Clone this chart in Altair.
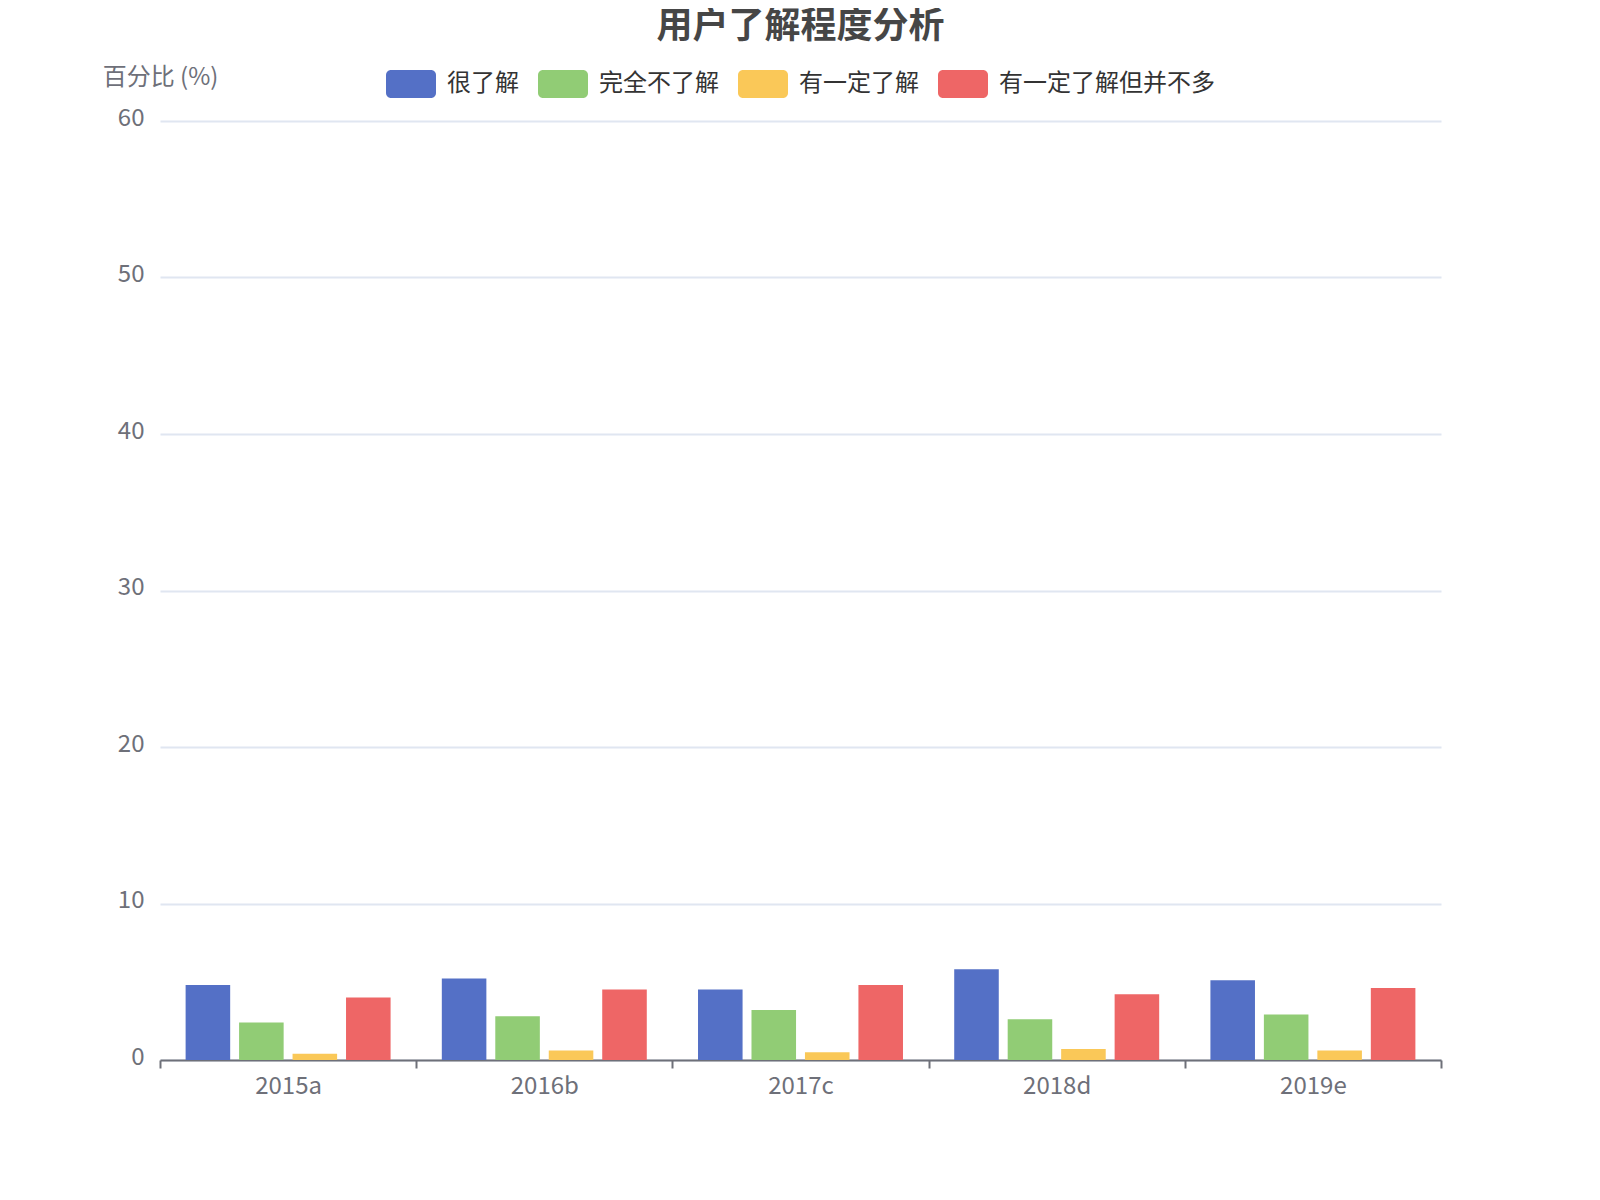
import altair as alt
import pandas as pd

# categories / series
years = ['2015a', '2016b', '2017c', '2018d', '2019e']
levels = ['很了解', '完全不了解', '有一定了解', '有一定了解但并不多']
very_well = [4.8, 5.2, 4.5, 5.8, 5.1]
not_at_all = [2.4, 2.8, 3.2, 2.6, 2.9]
somewhat = [0.4, 0.6, 0.5, 0.7, 0.6]
somewhat_little = [4.0, 4.5, 4.8, 4.2, 4.6]
colors = ['#5470c6', '#91cc75', '#fac858', '#ee6666']
y_ticks = [0, 10, 20, 30, 40, 50, 60]

series = [very_well, not_at_all, somewhat, somewhat_little]
rows = []
for lvl, vals in zip(levels, series):
    for yr, v in zip(years, vals):
        rows.append({'year': yr, 'level': lvl, 'value': v})
source = pd.DataFrame(rows)

FONT = 'Noto Sans CJK SC'
AXIS_GREY = '#6E7079'

# rounded rectangle legend symbol (unit box, scaled by symbolSize)
rrect = ('M-0.8,-0.56 H0.8 A0.2,0.2 0 0 1 1,-0.36 V0.36 '
         'A0.2,0.2 0 0 1 0.8,0.56 H-0.8 A0.2,0.2 0 0 1 -1,0.36 '
         'V-0.36 A0.2,0.2 0 0 1 -0.8,-0.56 Z')

bars = alt.Chart(source).mark_bar().encode(
    x=alt.X('year:N', sort=years,
            scale=alt.Scale(paddingInner=0, paddingOuter=0),
            axis=alt.Axis(title=None, labelAngle=0, tickBand='extent',
                          labelFontSize=24, labelColor=AXIS_GREY,
                          labelPadding=6, labelFont=FONT,
                          domainColor=AXIS_GREY, domainWidth=2,
                          tickColor=AXIS_GREY, tickWidth=2, tickSize=8)),
    xOffset=alt.XOffset('level:N', sort=levels,
                        scale=alt.Scale(paddingInner=1 / 6,
                                        paddingOuter=0.479)),
    y=alt.Y('value:Q',
            scale=alt.Scale(domain=[0, 60]),
            axis=alt.Axis(values=y_ticks, title='百分比 (%)',
                          titleAngle=0, titleX=0, titleY=-44,
                          titleAlign='center', titleBaseline='middle',
                          titleFontSize=24, titleFontWeight='normal',
                          titleColor=AXIS_GREY, titleFont=FONT,
                          labelFontSize=24, labelColor=AXIS_GREY,
                          labelFont=FONT, labelPadding=16, labelOffset=-3,
                          domain=False, ticks=False,
                          gridColor='#E0E6F1', gridWidth=2)),
    color=alt.Color('level:N', sort=levels,
                    scale=alt.Scale(domain=levels, range=colors),
                    legend=alt.Legend(title=None, orient='none',
                                      direction='horizontal',
                                      legendX=226, legendY=-62,
                                      symbolType=rrect, symbolSize=2500,
                                      symbolStrokeWidth=0, symbolOpacity=1,
                                      labelFontSize=24, labelColor='#333333',
                                      labelFont=FONT, labelOffset=11,
                                      labelLimit=0, columnPadding=19)),
).properties(
    width=1281,
    height=939,
    padding={'left': 152, 'top': 113, 'right': 150, 'bottom': 120},
    autosize=alt.AutoSizeParams(type='none'),
    title=alt.TitleParams('用户了解程度分析', fontSize=36, fontWeight='bold',
                          color='#464646', font=FONT, anchor='middle',
                          offset=13),
).configure_view(
    stroke=None
)

bars.save('out.html', embed_options={'renderer': 'svg', 'actions': False})
